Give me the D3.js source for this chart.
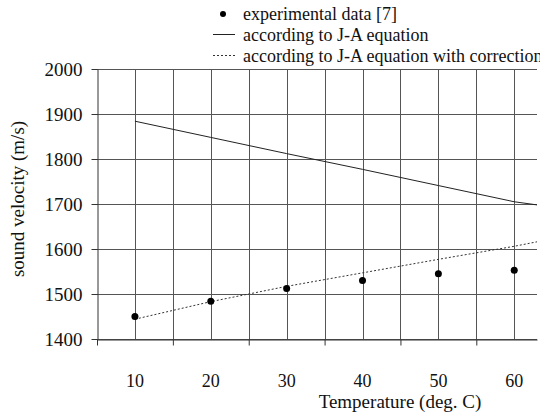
<!DOCTYPE html>
<html>
<head>
<meta charset="utf-8">
<script src="https://cdn.jsdelivr.net/npm/d3@7"></script>
<style>
    body { margin: 0; background: #fff; }
    svg { display: block; }
</style>
</head>
<body>
<div id="chart"></div>
<script>
// data
var temps = [10, 20, 30, 40, 50, 60];
var experimental = [1450, 1484, 1512, 1530, 1545, 1553];
var lineTemps = [10, 20, 30, 40, 50, 60, 63];
var jaValues = [1884, 1848, 1812, 1777, 1741, 1705, 1698];
var jaCorrected = [1444, 1483, 1517, 1547, 1577, 1606, 1616];
var xLabels = [10, 20, 30, 40, 50, 60];
var yTicks = [1400, 1500, 1600, 1700, 1800, 1900, 2000];
var legendLabels = ["experimental data [7]", "according to J-A equation", "according to J-A equation with correction"];

var serif = "'Liberation Serif', 'Times New Roman', Tinos, 'DejaVu Serif', serif";

function init() {
    var w = 547;
    var h = 420;
    var left = 97, right = 537, top = 69, bottom = 339;

    var svg = d3.select("#chart")
        .append("svg")
        .attr("width", w)
        .attr("height", h)
        .style("font-family", serif);

    var xScale = d3.scaleLinear().domain([5, 63]).range([left, right]);
    var yScale = d3.scaleLinear().domain([1400, 2000]).range([bottom, top]);

    // gridlines every 5 degrees
    var vGrid = d3.range(10, 61, 5);
    svg.append("g")
        .selectAll("line")
        .data(vGrid)
        .enter()
        .append("line")
        .attr("x1", d => Math.round(xScale(d)) + 0.5)
        .attr("x2", d => Math.round(xScale(d)) + 0.5)
        .attr("y1", top)
        .attr("y2", bottom)
        .attr("stroke", "#555")
        .attr("stroke-width", 1);

    // horizontal gridlines
    var yGrid = d3.axisLeft(yScale)
        .tickValues(yTicks)
        .tickSize(-(right - left))
        .tickSizeOuter(0)
        .tickFormat("");
    svg.append("g")
        .attr("transform", "translate(" + left + ",0)")
        .call(yGrid)
        .call(g => g.select(".domain").remove())
        .selectAll("line")
        .attr("stroke", "#555");

    // y axis with labels
    var yAxis = d3.axisLeft(yScale)
        .tickValues(yTicks)
        .tickSize(6)
        .tickSizeOuter(0)
        .tickPadding(9)
        .tickFormat(d3.format("d"));
    var gy = svg.append("g")
        .attr("transform", "translate(" + (left + 0.5) + ",0)")
        .call(yAxis)
        .attr("font-family", serif);
    gy.select(".domain").attr("stroke", "#333");
    gy.selectAll("line").attr("stroke", "#333");
    gy.selectAll("text")
        .style("font-family", serif)
        .style("font-size", "19px")
        .attr("fill", "#111");

    // x axis: ticks between categories, labels at the values
    var xAxis = d3.axisBottom(xScale)
        .tickValues([5, 15, 25, 35, 45, 55])
        .tickSize(6)
        .tickSizeOuter(0)
        .tickFormat("");
    var gx = svg.append("g")
        .attr("transform", "translate(0," + (bottom + 0.5) + ")")
        .call(xAxis);
    gx.select(".domain").attr("stroke", "#333");
    gx.selectAll("line").attr("stroke", "#333");

    svg.append("g")
        .selectAll("text")
        .data(xLabels)
        .enter()
        .append("text")
        .attr("x", d => xScale(d))
        .attr("y", 387)
        .attr("text-anchor", "middle")
        .style("font-size", "18px")
        .attr("fill", "#111")
        .text(d => d);

    // axis titles
    svg.append("text")
        .attr("x", 400)
        .attr("y", 408)
        .attr("text-anchor", "middle")
        .style("font-size", "19px")
        .attr("fill", "#111")
        .text("Temperature (deg. C)");

    svg.append("text")
        .attr("transform", "translate(24,199) rotate(-90)")
        .attr("text-anchor", "middle")
        .style("font-size", "19px")
        .attr("fill", "#111")
        .text("sound velocity (m/s)");

    // model lines
    var line = d3.line()
        .x(d => xScale(d[0]))
        .y(d => yScale(d[1]));

    svg.append("path")
        .datum(lineTemps.map((t, i) => [t, jaValues[i]]))
        .attr("d", line)
        .attr("fill", "none")
        .attr("stroke", "#222")
        .attr("stroke-width", 1);

    svg.append("path")
        .datum(lineTemps.map((t, i) => [t, jaCorrected[i]]))
        .attr("d", line)
        .attr("fill", "none")
        .attr("stroke", "#333")
        .attr("stroke-width", 1)
        .attr("stroke-dasharray", "2,2");

    // experimental points
    svg.append("g")
        .selectAll("circle")
        .data(temps)
        .enter()
        .append("circle")
        .attr("cx", d => xScale(d))
        .attr("cy", (d, i) => yScale(experimental[i]))
        .attr("r", 3.5)
        .attr("fill", "#000");

    // legend, cut off at the right edge like the original
    svg.append("clipPath")
        .attr("id", "legclip")
        .append("rect")
        .attr("x", 200).attr("y", 0)
        .attr("width", 340).attr("height", 68);

    var legend = svg.append("g").attr("clip-path", "url(#legclip)");
    var legY = [20, 41, 62];

    legend.append("circle")
        .attr("cx", 223).attr("cy", legY[0] - 6)
        .attr("r", 3).attr("fill", "#000");
    legend.append("line")
        .attr("x1", 213).attr("x2", 235)
        .attr("y1", legY[1] - 6.5).attr("y2", legY[1] - 6.5)
        .attr("stroke", "#222");
    legend.append("line")
        .attr("x1", 213).attr("x2", 235)
        .attr("y1", legY[2] - 6.5).attr("y2", legY[2] - 6.5)
        .attr("stroke", "#333")
        .attr("stroke-dasharray", "2,2");

    legend.selectAll("text")
        .data(legendLabels)
        .enter()
        .append("text")
        .attr("x", 243)
        .attr("y", (d, i) => legY[i])
        .style("font-size", "18px")
        .attr("fill", "#111")
        .text(d => d);
}

window.onload = init;
</script>
</body>
</html>
